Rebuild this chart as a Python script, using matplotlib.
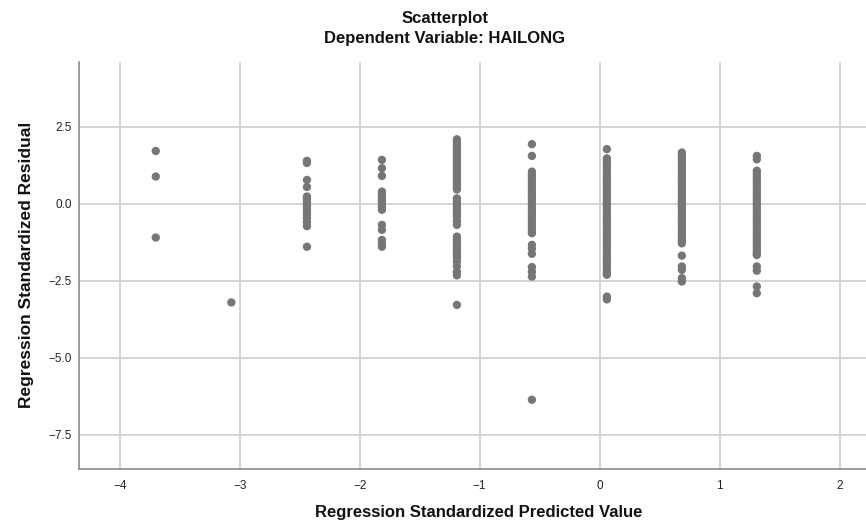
import matplotlib
matplotlib.use("Agg")
import matplotlib.pyplot as plt

# Standardized predicted value of each group
pred_values = [-3.70, -3.07, -2.44, -1.815, -1.19, -0.565, 0.06, 0.685, 1.31]

# Standardized residuals observed in each group
res_g1 = [1.72, 0.89, -1.09]
res_g2 = [-3.20]
res_g3 = [1.40, 1.33, 0.78, 0.55, 0.24, 0.15, 0.06, -0.04, -0.14, -0.24,
          -0.36, -0.47, -0.60, -0.72, -1.39]
res_g4 = [1.43, 1.16, 0.91, 0.40, 0.30, 0.20, 0.10, 0.00, -0.10, -0.19,
          -0.68, -0.84, -1.17, -1.30, -1.39]
res_g5 = [2.10, 2.02, 1.93, 1.85, 1.76, 1.68, 1.59, 1.50, 1.42, 1.33, 1.25,
          1.16, 1.08, 0.99, 0.90, 0.82, 0.73, 0.64, 0.55, 0.47, 0.18, 0.08,
          -0.02, -0.12, -0.22, -0.32, -0.42, -0.55, -0.68, -1.06, -1.15,
          -1.25, -1.35, -1.45, -1.55, -1.65, -1.75, -1.87, -2.02, -2.20,
          -2.32, -3.28]
res_g6 = [1.94, 1.56, 1.05, 0.95, 0.85, 0.75, 0.65, 0.55, 0.45, 0.35, 0.25,
          0.15, 0.05, -0.05, -0.15, -0.25, -0.35, -0.45, -0.55, -0.65, -0.75,
          -0.85, -0.95, -1.33, -1.45, -1.62, -2.05, -2.20, -2.36, -6.36]
res_g7 = [1.78, 1.48, 1.38, 1.28, 1.18, 1.08, 0.98, 0.88, 0.78, 0.68, 0.58,
          0.48, 0.38, 0.28, 0.18, 0.08, -0.02, -0.12, -0.22, -0.32, -0.42,
          -0.52, -0.62, -0.72, -0.82, -0.92, -1.02, -1.12, -1.22, -1.32,
          -1.42, -1.52, -1.62, -1.72, -1.82, -1.92, -2.02, -2.12, -2.22,
          -2.30, -3.01, -3.10]
res_g8 = [1.67, 1.58, 1.48, 1.38, 1.28, 1.18, 1.08, 0.98, 0.88, 0.78, 0.68,
          0.58, 0.48, 0.38, 0.28, 0.18, 0.08, -0.02, -0.12, -0.22, -0.32,
          -0.42, -0.52, -0.62, -0.72, -0.82, -0.92, -1.02, -1.12, -1.20,
          -1.28, -1.68, -2.03, -2.14, -2.41, -2.52]
res_g9 = [1.56, 1.45, 1.08, 0.98, 0.88, 0.78, 0.68, 0.58, 0.48, 0.38, 0.28,
          0.18, 0.08, -0.02, -0.12, -0.22, -0.32, -0.42, -0.52, -0.62, -0.72,
          -0.82, -0.92, -1.02, -1.12, -1.22, -1.32, -1.42, -1.52, -1.60,
          -1.66, -2.03, -2.17, -2.68, -2.90]

x_ticks = [-4, -3, -2, -1, 0, 1, 2]
y_ticks = [2.5, 0.0, -2.5, -5.0, -7.5]

groups = [res_g1, res_g2, res_g3, res_g4, res_g5, res_g6, res_g7, res_g8, res_g9]
xs, ys = [], []
for xv, res in zip(pred_values, groups):
    xs.extend([xv] * len(res))
    ys.extend(res)

plt.rcParams["font.family"] = ["Liberation Sans", "DejaVu Sans"]

fig = plt.figure(figsize=(8.66, 5.24), dpi=100)
ax = fig.add_axes([79 / 866, 1 - 469 / 524, 1 - 79 / 866, (469 - 62) / 524])

ax.scatter(xs, ys, s=36, color="#767676", edgecolors="none", zorder=3)

ax.set_xlim(-4.34, 2.22)
ax.set_ylim(-8.61, 4.61)
ax.set_xticks(x_ticks)
ax.set_yticks(y_ticks)
ax.set_xticklabels([f"{v}".replace("-", "\u2212") for v in x_ticks])
ax.set_yticklabels([f"{v:.1f}".replace("-", "\u2212") for v in y_ticks])
ax.tick_params(length=0, labelsize=8.5, colors="#222222", pad=5)
ax.tick_params(axis="x", pad=8)

ax.grid(True, color="#d4d4d4", linewidth=1.4, zorder=0)
ax.set_axisbelow(True)
for side in ("top", "right"):
    ax.spines[side].set_visible(False)
for side in ("left", "bottom"):
    ax.spines[side].set_color("#8a8a8a")
    ax.spines[side].set_linewidth(1.2)

fig.text(445 / 866, 1 - 18 / 524, "Scatterplot", ha="center", va="center",
         fontsize=12, fontweight="bold", color="#111111")
fig.text(445 / 866, 1 - 39 / 524, "Dependent Variable: HAILONG", ha="center",
         va="center", fontsize=12, fontweight="bold", color="#111111")
fig.text(479 / 866, 1 - 512 / 524, "Regression Standardized Predicted Value",
         ha="center", va="center", fontsize=12, fontweight="bold",
         color="#111111")
fig.text(27 / 866, 1 - 265 / 524, "Regression Standardized Residual",
         ha="center", va="center", rotation=90, fontsize=12.5,
         fontweight="bold", color="#111111")

fig.savefig("out.png", dpi=100)
